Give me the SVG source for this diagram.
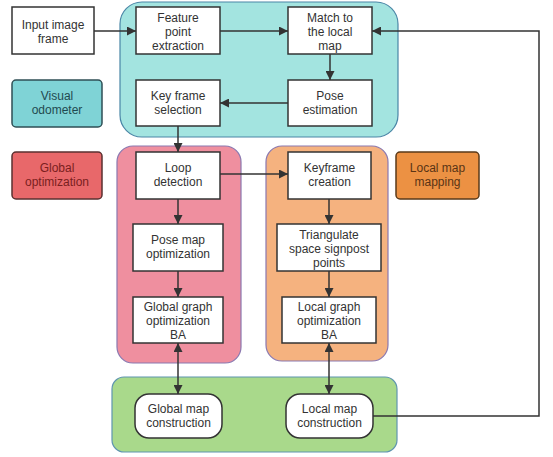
<svg xmlns="http://www.w3.org/2000/svg" width="553" height="457" viewBox="0 0 553 457">
<defs>
<marker id="ah" viewBox="0 0 10 10" refX="10" refY="5" markerWidth="9" markerHeight="9" markerUnits="userSpaceOnUse" orient="auto-start-reverse">
<path d="M0,0 L10,5 L0,10 z" fill="#333"/>
</marker>
<style>
text{font-family:"Liberation Sans",Arial,sans-serif;font-size:12px;fill:#333;text-anchor:middle}
.n{fill:#fff;stroke:#333;stroke-width:1.5}
.c{fill:none;stroke:#333;stroke-width:1.5}
</style>
</defs>
<g id="groups">
<rect id="grp-visual" x="120" y="2" width="278" height="135" rx="22" fill="#a3e4e0" stroke="#4a86a6" stroke-width="1.2"/>
<rect id="grp-global" x="117" y="146" width="124" height="217" rx="16" fill="#ef8f9f" stroke="#8a78b0" stroke-width="1.2"/>
<rect id="grp-local" x="266" y="146" width="122" height="215" rx="16" fill="#f5b27f" stroke="#8a78b0" stroke-width="1.2"/>
<rect id="grp-map" x="112" y="377" width="285" height="75" rx="12" fill="#a9d98b" stroke="#5f95b0" stroke-width="1.2"/>
</g>
<g id="legend-visual">
<rect x="12" y="80" width="90" height="47" rx="4" fill="#7fd3d6" stroke="#2f4f55" stroke-width="1.5"/>
<text x="57" y="100" style="fill:#1f4a50">Visual</text>
<text x="57" y="114" style="fill:#1f4a50">odometer</text>
</g>
<g id="legend-global">
<rect x="12" y="152" width="90" height="47" rx="4" fill="#e8686a" stroke="#5a3030" stroke-width="1.5"/>
<text x="57" y="172" style="fill:#7a2020">Global</text>
<text x="57" y="186" style="fill:#7a2020">optimization</text>
</g>
<g id="legend-local">
<rect x="396" y="152" width="83" height="47" rx="4" fill="#ec9143" stroke="#5a3a1a" stroke-width="1.5"/>
<text x="437.5" y="172" style="fill:#5a3415">Local map</text>
<text x="437.5" y="186" style="fill:#5a3415">mapping</text>
</g>
<g id="input">
<rect class="n" x="12" y="7" width="82" height="47"/>
<text x="53" y="28.5">Input image</text>
<text x="53" y="42.5">frame</text>
</g>
<g id="feature">
<rect class="n" x="136" y="7" width="84" height="47"/>
<text x="178" y="21.5">Feature</text>
<text x="178" y="35.5">point</text>
<text x="178" y="49.5">extraction</text>
</g>
<g id="match">
<rect class="n" x="288" y="7" width="84" height="47"/>
<text x="330" y="21.5">Match to</text>
<text x="330" y="35.5">the local</text>
<text x="330" y="49.5">map</text>
</g>
<g id="pose">
<rect class="n" x="288" y="80" width="84" height="46"/>
<text x="330" y="100">Pose</text>
<text x="330" y="114">estimation</text>
</g>
<g id="keysel">
<rect class="n" x="136" y="80" width="84" height="46"/>
<text x="178" y="100">Key frame</text>
<text x="178" y="114">selection</text>
</g>
<g id="loop">
<rect class="n" x="136" y="152" width="84" height="47"/>
<text x="178" y="172">Loop</text>
<text x="178" y="186">detection</text>
</g>
<g id="posemap">
<rect class="n" x="133" y="224" width="90" height="47"/>
<text x="178" y="244">Pose map</text>
<text x="178" y="258">optimization</text>
</g>
<g id="globalba">
<rect class="n" x="133" y="297" width="90" height="46"/>
<text x="178" y="311">Global graph</text>
<text x="178" y="325">optimization</text>
<text x="178" y="339">BA</text>
</g>
<g id="keycreate">
<rect class="n" x="288" y="152" width="83" height="47"/>
<text x="329.5" y="172">Keyframe</text>
<text x="329.5" y="186">creation</text>
</g>
<g id="triangulate">
<rect class="n" x="277" y="224" width="104" height="47"/>
<text x="329" y="238.5">Triangulate</text>
<text x="329" y="252.5">space signpost</text>
<text x="329" y="266.5">points</text>
</g>
<g id="localba">
<rect class="n" x="282" y="297" width="94" height="46"/>
<text x="329" y="311">Local graph</text>
<text x="329" y="325">optimization</text>
<text x="329" y="339">BA</text>
</g>
<g id="globalmap">
<rect class="n" x="135" y="394" width="87" height="44" rx="14"/>
<text x="178.5" y="413">Global map</text>
<text x="178.5" y="427">construction</text>
</g>
<g id="localmap">
<rect class="n" x="286" y="394" width="87" height="44" rx="14"/>
<text x="329.5" y="413">Local map</text>
<text x="329.5" y="427">construction</text>
</g>
<g id="connectors">
<line class="c" x1="94" y1="31" x2="136" y2="31" marker-end="url(#ah)"/>
<line class="c" x1="220" y1="31" x2="288" y2="31" marker-end="url(#ah)"/>
<line class="c" x1="330" y1="54" x2="330" y2="80" marker-end="url(#ah)"/>
<line class="c" x1="288" y1="103" x2="220" y2="103" marker-end="url(#ah)"/>
<line class="c" x1="178" y1="126" x2="178" y2="152" marker-end="url(#ah)"/>
<line class="c" x1="220" y1="174" x2="288" y2="174" marker-end="url(#ah)"/>
<line class="c" x1="178" y1="199" x2="178" y2="224" marker-end="url(#ah)"/>
<line class="c" x1="178" y1="271" x2="178" y2="297" marker-end="url(#ah)"/>
<line class="c" x1="329" y1="199" x2="329" y2="224" marker-end="url(#ah)"/>
<line class="c" x1="329" y1="271" x2="329" y2="297" marker-end="url(#ah)"/>
<line class="c" x1="178" y1="343" x2="178" y2="394" marker-start="url(#ah)" marker-end="url(#ah)"/>
<line class="c" x1="329" y1="343" x2="329" y2="394" marker-start="url(#ah)" marker-end="url(#ah)"/>
<polyline class="c" points="373,416 539,416 539,31 372,31" marker-end="url(#ah)"/>
</g>
</svg>
